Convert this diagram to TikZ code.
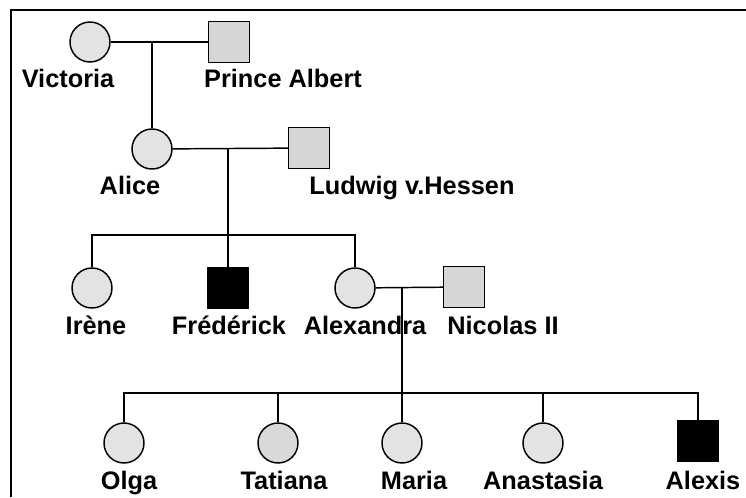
\documentclass[tikz,border=0pt]{standalone}
\usepackage{fontspec}
\setmainfont{Liberation Sans}
\usepackage{tikz}

\begin{document}
\begin{tikzpicture}
	[x=0.75pt, y=-0.75pt, line width=1.1pt,
	 female/.style={circle, draw, fill=gray!22, minimum size=30pt, inner sep=0pt},
	 male/.style={rectangle, draw, fill=gray!32, minimum size=30.75pt, inner sep=0pt},
	 affected/.style={rectangle, draw, fill=black, minimum size=30.75pt, inner sep=0pt},
	 lbl/.style={anchor=base, inner sep=0pt, font=\fontsize{19}{22}\selectfont\bfseries}]
	\useasboundingbox (0,0) rectangle (746,497);
	\draw[line width=1.6pt] (746,10) -- (11,10) -- (11,497);

	% generation I
	\node[female] (Victoria) at (90,42) {};
	\node[male] (Albert) at (229,42) {};
	\node[lbl] (VictoriaL) at (68,87) {Victoria};
	\node[lbl] (AlbertL) at (283,87) {Prince Albert};

	% generation II
	\node[female] (Alice) at (152,149) {};
	\node[male] (Ludwig) at (309,148) {};
	\node[lbl] (AliceL) at (130,194) {Alice};
	\node[lbl] (LudwigL) at (412,194) {Ludwig v.Hessen};

	% generation III
	\node[female] (Irene) at (92,288) {};
	\node[affected] (Frederick) at (228,288) {};
	\node[female] (Alexandra) at (355,288) {};
	\node[male] (Nicolas) at (464,287) {};
	\node[lbl] (IreneL) at (96,334) {Irène};
	\node[lbl] (FrederickL) at (229,334) {Frédérick};
	\node[lbl] (AlexandraL) at (365,334) {Alexandra};
	\node[lbl] (NicolasL) at (503,334) {Nicolas II};

	% generation IV
	\node[female] (Olga) at (124,443) {};
	\node[female, fill=gray!30] (Tatiana) at (278,443) {};
	\node[female] (Maria) at (402,443) {};
	\node[female] (Anastasia) at (543,443) {};
	\node[affected] (Alexis) at (698,441) {};
	\node[lbl] (OlgaL) at (129,489) {Olga};
	\node[lbl] (TatianaL) at (284,489) {Tatiana};
	\node[lbl] (MariaL) at (414,489) {Maria};
	\node[lbl] (AnastasiaL) at (543,489) {Anastasia};
	\node[lbl] (AlexisL) at (703,489) {Alexis};

	\coordinate (m1) at (152,42);
	\coordinate (m2) at (228,148);
	\coordinate (s2) at (228,235);
	\coordinate (m3) at (402,287);
	\coordinate (s3) at (402,393);

	\draw (Victoria) -- (Albert);
	\draw (m1) -- (Alice);
	\draw (Alice) -- (Ludwig);
	\draw (m2) -- (Frederick);
	\draw (Irene) -- (Irene |- s2) -- (Alexandra |- s2) -- (Alexandra);
	\draw (Alexandra) -- (Nicolas);
	\draw (m3) -- (Maria);
	\draw (Olga) -- (Olga |- s3) -- (Alexis |- s3) -- (Alexis);
	\draw (Tatiana) -- (Tatiana |- s3);
	\draw (Anastasia) -- (Anastasia |- s3);
\end{tikzpicture}
\end{document}
